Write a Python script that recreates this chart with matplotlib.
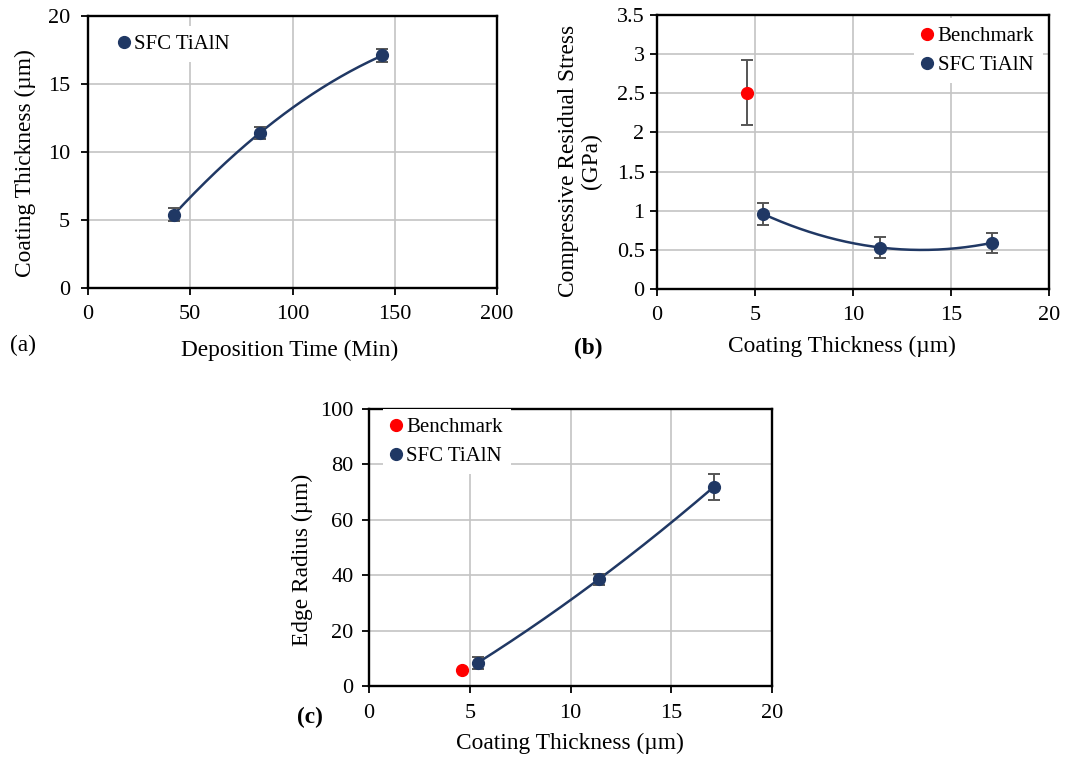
import numpy as np
import matplotlib
matplotlib.use('Agg')
import matplotlib.pyplot as plt
from matplotlib.lines import Line2D
from matplotlib.ticker import FuncFormatter

plt.rcParams['font.family'] = ['Liberation Serif', 'DejaVu Serif']

# ---------------- Data ----------------
# (a) coating thickness vs deposition time
time_min = [42, 84, 144]
thick_um = [5.4, 11.4, 17.1]
thick_err = [0.45, 0.45, 0.45]

# (b) compressive residual stress vs coating thickness
bench_thick = [4.6]
bench_stress = [2.51]
bench_stress_err = [0.41]
sfc_thick = [5.4, 11.4, 17.1]
sfc_stress = [0.96, 0.53, 0.59]
sfc_stress_err = [0.14, 0.135, 0.125]

# (c) edge radius vs coating thickness
bench_radius = [5.8]
sfc_radius = [8.4, 38.5, 71.8]
sfc_radius_err = [2.1, 1.9, 4.8]

NAVY = '#203864'
RED = '#FF0000'
GRID = '#C4C4C4'
ERR = '#555555'

W, H = 1065, 758
fig = plt.figure(figsize=(W / 100, H / 100), dpi=100)


def rect(l, t, r, b):
    return [l / W, 1 - b / H, (r - l) / W, (b - t) / H]


def fmt(v, pos):
    return ('%g' % v)


def style(ax, xlim, xticks, ylim, yticks, ypad, xpad):
    ax.set_xlim(xlim)
    ax.set_ylim(ylim)
    ax.set_xticks(xticks)
    ax.set_yticks(yticks)
    ax.xaxis.set_major_formatter(FuncFormatter(fmt))
    ax.yaxis.set_major_formatter(FuncFormatter(fmt))
    ax.grid(True, color=GRID, lw=1.2)
    ax.set_axisbelow(True)
    for s in ax.spines.values():
        s.set_linewidth(1.7)
        s.set_color('black')
    ax.tick_params(axis='both', direction='out', length=5, width=1.3,
                   labelsize=16, color='black')
    ax.tick_params(axis='y', pad=ypad)
    ax.tick_params(axis='x', pad=xpad)


def trend(ax, x, y):
    c = np.polyfit(x, y, 2)
    xs = np.linspace(min(x), max(x), 200)
    ax.plot(xs, np.polyval(c, xs), color=NAVY, lw=1.8, zorder=3)


def series(ax, x, y, err, color):
    ax.errorbar(x, y, yerr=err, fmt='none', ecolor=ERR, elinewidth=1.4,
                capsize=4.2, capthick=1.4, zorder=4)
    ax.plot(x, y, 'o', color=color, markersize=8.5, zorder=5)


def legend(ax, entries, anchor):
    handles = [Line2D([], [], marker='o', ls='none', color=c, markersize=8.5)
               for c, _ in entries]
    labels = [l for _, l in entries]
    leg = ax.legend(handles, labels, loc='upper left', bbox_to_anchor=anchor,
                    frameon=True, facecolor='white', edgecolor='none',
                    framealpha=1, fancybox=False, handlelength=0.5,
                    handletextpad=0.25, borderpad=0.4, borderaxespad=0,
                    labelspacing=0.45, fontsize=15)
    leg.set_zorder(6)
    return leg


LABEL_FS = 16.8

# ---------------- (a) ----------------
axa = fig.add_axes(rect(88, 16, 497, 288))
style(axa, (0, 200), [0, 50, 100, 150, 200], (0, 20), [0, 5, 10, 15, 20], 8, 7)
trend(axa, time_min, thick_um)
series(axa, time_min, thick_um, thick_err, NAVY)
legend(axa, [(NAVY, 'SFC TiAlN')], (0.055, 0.963))
axa.set_xlabel('Deposition Time (Min)', fontsize=LABEL_FS)
axa.set_ylabel('Coating Thickness (µm)', fontsize=LABEL_FS)
axa.xaxis.set_label_coords(0.494, -0.228)
axa.yaxis.set_label_coords(-0.154, 0.46)
axa.xaxis.label.set_va('center')
axa.yaxis.label.set_va('center')

# ---------------- (b) ----------------
axb = fig.add_axes(rect(657, 15, 1049, 289))
style(axb, (0, 20), [0, 5, 10, 15, 20], (0, 3.5),
      [0, 0.5, 1, 1.5, 2, 2.5, 3, 3.5], 4, 7)
trend(axb, sfc_thick, sfc_stress)
series(axb, bench_thick, bench_stress, bench_stress_err, RED)
series(axb, sfc_thick, sfc_stress, sfc_stress_err, NAVY)
legend(axb, [(RED, 'Benchmark'), (NAVY, 'SFC TiAlN')], (0.655, 0.989))
axb.set_xlabel('Coating Thickness (µm)', fontsize=LABEL_FS)
axb.set_ylabel('Compressive Residual Stress\n(GPa)', fontsize=LABEL_FS,
               linespacing=1.15)
axb.xaxis.set_label_coords(0.473, -0.208)
axb.yaxis.set_label_coords(-0.196, 0.467)
axb.xaxis.label.set_va('center')
axb.yaxis.label.set_va('center')

# ---------------- (c) ----------------
axc = fig.add_axes(rect(369, 409, 772, 686))
style(axc, (0, 20), [0, 5, 10, 15, 20], (0, 100), [0, 20, 40, 60, 80, 100], 6, 8)
trend(axc, sfc_thick, sfc_radius)
axc.plot(bench_thick, bench_radius, 'o', color=RED, markersize=8.5, zorder=5)
series(axc, sfc_thick, sfc_radius, sfc_radius_err, NAVY)
legend(axc, [(RED, 'Benchmark'), (NAVY, 'SFC TiAlN')], (0.0335, 1.0))
axc.set_xlabel('Coating Thickness (µm)', fontsize=LABEL_FS)
axc.set_ylabel('Edge Radius (µm)', fontsize=LABEL_FS)
axc.xaxis.set_label_coords(0.499, -0.206)
axc.yaxis.set_label_coords(-0.166, 0.455)
axc.xaxis.label.set_va('center')
axc.yaxis.label.set_va('center')

# panel letters
fig.text(23 / W, 1 - 345 / H, '(a)', fontsize=LABEL_FS, ha='center', va='center')
fig.text(588 / W, 1 - 348 / H, '(b)', fontsize=LABEL_FS, ha='center', va='center',
         fontweight='bold')
fig.text(310 / W, 1 - 717 / H, '(c)', fontsize=LABEL_FS, ha='center', va='center',
         fontweight='bold')

fig.savefig('out.png', dpi=100, facecolor='white')
